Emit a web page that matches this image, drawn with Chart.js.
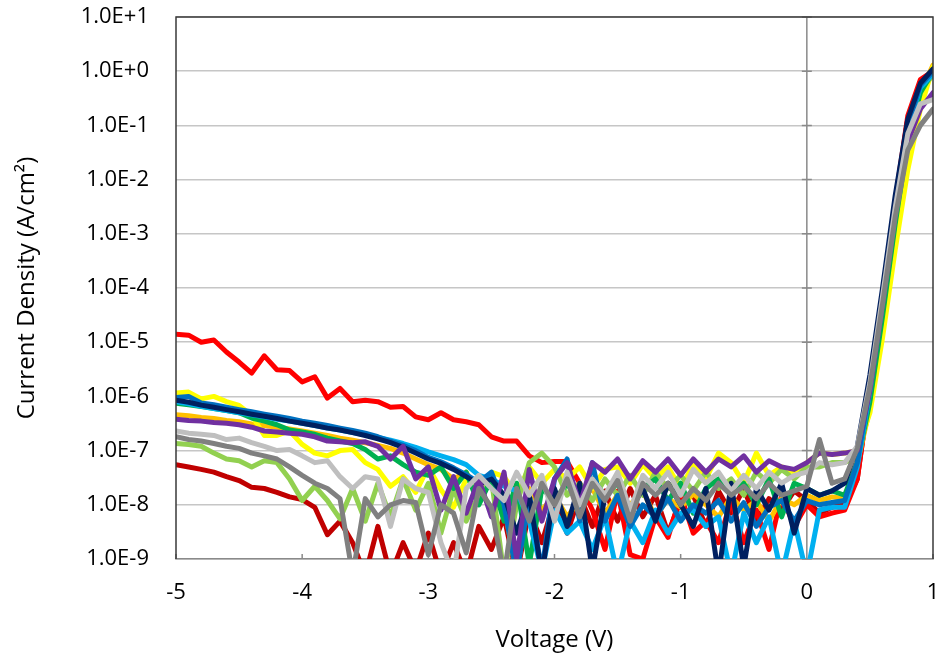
<!DOCTYPE html>
<html>
<head>
<meta charset="utf-8">
<script src="https://cdn.jsdelivr.net/npm/chart.js@4.4.1/dist/chart.umd.min.js"></script>
<style>
  html, body { margin: 0; padding: 0; background: #fff; }
</style>
</head>
<body>
<canvas id="chart" width="935" height="661"></canvas>
<script>
// Voltage sweep (V), step 0.1
const voltage = [
  -5.0, -4.9, -4.8, -4.7, -4.6, -4.5, -4.4, -4.3, -4.2, -4.1,
  -4.0, -3.9, -3.8, -3.7, -3.6, -3.5, -3.4, -3.3, -3.2, -3.1,
  -3.0, -2.9, -2.8, -2.7, -2.6, -2.5, -2.4, -2.3, -2.2, -2.1,
  -2.0, -1.9, -1.8, -1.7, -1.6, -1.5, -1.4, -1.3, -1.2, -1.1,
  -1.0, -0.9, -0.8, -0.7, -0.6, -0.5, -0.4, -0.3, -0.2, -0.1,
   0.0,  0.1,  0.2,  0.3,  0.4,  0.5,  0.6,  0.7,  0.8,  0.9, 1.0
];

// Current density (A/cm2) per device
const darkRed = [
  5.5e-8, 5e-8, 4.5e-8, 4e-8, 3.3e-8, 2.8e-8, 2.1e-8, 2e-8, 1.7e-8, 1.4e-8,
  1.25e-8, 9e-9, 2.8e-9, 5e-9, 2e-9, 5e-10, 4e-9, 5e-10, 2e-9, 6e-10,
  3e-9, 5e-10, 2e-9, 5e-10, 4e-9, 1.5e-9, 6e-9, 5e-10, 8e-9, 2e-9,
  1.2e-8, 3e-9, 1.5e-8, 4e-9, 1.8e-8, 5e-9, 2e-8, 6e-9, 1.5e-8, 3e-9,
  1.2e-8, 1.5e-8, 4e-9, 1.8e-8, 7e-9, 2e-8, 5e-9, 1.3e-8, 8e-9, 1.8e-8,
  1.2e-8, 7e-9, 9e-9, 1e-8, 3e-8, 1.4e-6, 6.5e-5, 3.5e-3, 1.3e-1, 6.5e-1, 0.95
];
const red = [
  1.4e-5, 1.35e-5, 1.0e-5, 1.1e-5, 6.6e-6, 4.3e-6, 2.7e-6, 5.6e-6, 3.1e-6, 3.0e-6,
  1.85e-6, 2.3e-6, 9.3e-7, 1.4e-6, 8e-7, 8.5e-7, 8e-7, 6.3e-7, 6.5e-7, 4.2e-7,
  3.7e-7, 5e-7, 3.7e-7, 3.4e-7, 3e-7, 1.8e-7, 1.5e-7, 1.5e-7, 8e-8, 6e-8,
  6.3e-8, 6.3e-8, 2.5e-8, 8e-9, 1.5e-9, 1.8e-8, 1.2e-9, 1e-9, 6e-9, 2.5e-9,
  1.5e-8, 3e-9, 5e-9, 2e-9, 1.2e-8, 2e-9, 8e-9, 1.5e-9, 1.5e-8, 4e-9,
  1e-8, 6e-9, 7e-9, 8e-9, 3e-8, 1.5e-6, 7e-5, 4e-3, 1.5e-1, 7e-1, 1.0
];
const orange = [
  4.6e-7, 4.4e-7, 4.1e-7, 3.9e-7, 3.6e-7, 3.4e-7, 3.1e-7, 2.9e-7, 2.7e-7, 2.5e-7,
  2.3e-7, 2.1e-7, 1.9e-7, 1.7e-7, 1.55e-7, 1.4e-7, 1.25e-7, 1.1e-7, 9e-8, 7e-8,
  5.5e-8, 4.5e-8, 3e-8, 4e-8, 1.5e-8, 3e-8, 1e-8, 5e-10, 2e-8, 8e-9,
  1.5e-8, 6e-9, 1.2e-8, 2e-8, 7e-9, 1.5e-8, 1e-8, 1.8e-8, 6e-9, 1.3e-8,
  9e-9, 1.6e-8, 1e-8, 6e-9, 1.4e-8, 8e-9, 1.2e-8, 5e-9, 1.3e-8, 1e-8,
  1.5e-8, 1.2e-8, 1.4e-8, 1.3e-8, 6e-8, 6e-7, 2.5e-5, 1.2e-3, 4.5e-2, 4e-1, 1.3
];
const yellow = [
  1.15e-6, 1.2e-6, 9e-7, 1.0e-6, 8e-7, 6.8e-7, 4.5e-7, 1.9e-7, 1.9e-7, 2.3e-7,
  1.3e-7, 9e-8, 8e-8, 1e-7, 1.05e-7, 6e-8, 4.5e-8, 2.2e-8, 3.3e-8, 1.7e-8,
  5e-8, 1.9e-8, 9e-9, 3e-8, 2e-8, 4e-8, 3.3e-8, 1.5e-8, 5e-8, 2.5e-8,
  4.5e-8, 3e-8, 5e-8, 2e-8, 4.5e-8, 5e-8, 2.5e-8, 5.5e-8, 3e-8, 5e-8,
  2e-8, 5.5e-8, 3e-8, 9e-8, 6e-8, 2.5e-8, 9e-8, 3.5e-8, 5e-8, 4e-8,
  6e-8, 9e-8, 8.5e-8, 9e-8, 1e-7, 5e-7, 1.2e-5, 5e-4, 1.5e-2, 2e-1, 1.2
];
const lightGreen = [
  1.35e-7, 1.3e-7, 1.2e-7, 9e-8, 7e-8, 6.5e-8, 5e-8, 6.5e-8, 6e-8, 3e-8,
  1.2e-8, 2.2e-8, 1.2e-8, 5.5e-9, 2e-8, 5e-9, 2.5e-8, 6e-9, 3e-8, 8e-9,
  2.5e-8, 3e-9, 2e-8, 5e-9, 1.5e-8, 3e-8, 5e-10, 1e-8, 6e-8, 9e-8,
  5e-8, 1.5e-8, 2.5e-8, 1.2e-8, 3e-8, 1.5e-8, 3.5e-8, 1.5e-8, 4e-8, 2e-8,
  3.5e-8, 1.8e-8, 4e-8, 2e-8, 3e-8, 1.5e-8, 4e-8, 2.5e-8, 4.5e-8, 3e-8,
  5e-8, 5e-8, 6e-8, 6e-8, 8e-8, 9e-7, 3.5e-5, 1.8e-3, 6e-2, 4.5e-1, 0.85
];
const green = [
  7.5e-7, 7e-7, 6.5e-7, 6e-7, 5.5e-7, 5e-7, 4e-7, 3.5e-7, 3e-7, 2.4e-7,
  2.2e-7, 2e-7, 1.7e-7, 1.5e-7, 1.35e-7, 1.05e-7, 7e-8, 8e-8, 5.5e-8, 4e-8,
  3.5e-8, 5e-8, 2e-8, 4e-8, 1e-8, 3e-8, 5e-9, 2.5e-8, 8e-10, 2e-8,
  1.2e-8, 2.5e-8, 1e-8, 3e-8, 1.5e-8, 2.5e-8, 8e-9, 2e-8, 3e-8, 1.2e-8,
  2.5e-8, 7e-9, 2e-8, 3e-8, 1.5e-8, 2.5e-8, 1e-8, 3e-8, 6e-9, 2.5e-8,
  2e-8, 1.5e-8, 1.8e-8, 1.5e-8, 6e-8, 8e-7, 3e-5, 1.5e-3, 5e-2, 4e-1, 1.0
];
const lightBlue = [
  8e-7, 7.3e-7, 6.6e-7, 6e-7, 5.5e-7, 5e-7, 4.6e-7, 4.2e-7, 3.8e-7, 3.5e-7,
  3.2e-7, 2.9e-7, 2.6e-7, 2.4e-7, 2.15e-7, 1.95e-7, 1.75e-7, 1.55e-7, 1.35e-7, 1.15e-7,
  9.5e-8, 8e-8, 6.8e-8, 5.5e-8, 3.5e-8, 3e-8, 2.2e-8, 1.8e-8, 5e-9, 6e-10,
  8e-9, 3e-9, 5e-9, 1.5e-9, 6e-9, 5e-10, 5e-9, 2e-9, 8e-9, 3e-9,
  7e-9, 8e-9, 4e-9, 6e-9, 5e-10, 7e-9, 2e-9, 6e-9, 5e-10, 5e-9,
  5e-10, 8e-9, 9e-9, 9e-9, 5e-8, 1.3e-6, 5.5e-5, 2.8e-3, 9e-2, 5e-1, 0.9
];
const blue = [
  9.5e-7, 1.0e-6, 7.6e-7, 7e-7, 6.3e-7, 5.7e-7, 5.2e-7, 4.7e-7, 4.3e-7, 3.9e-7,
  3.5e-7, 3.2e-7, 2.9e-7, 2.6e-7, 2.35e-7, 2.1e-7, 1.8e-7, 1.5e-7, 1.25e-7, 1e-7,
  7.5e-8, 6.2e-8, 4.8e-8, 3.6e-8, 2.6e-8, 4e-8, 1e-8, 5e-10, 1.5e-8, 6e-10,
  3e-8, 7e-8, 5e-9, 6e-8, 5e-9, 1.5e-8, 4e-9, 1e-8, 6e-9, 1.3e-8,
  5e-9, 1e-8, 7e-9, 1.2e-8, 5e-9, 1.1e-8, 4e-9, 9e-9, 1.2e-8, 5e-9,
  1.2e-8, 1e-8, 1.1e-8, 1.2e-8, 6e-8, 1.5e-6, 6e-5, 3e-3, 1e-1, 5.5e-1, 1.0
];
const darkBlue = [
  8.5e-7, 7.8e-7, 6.9e-7, 6.3e-7, 5.7e-7, 5.2e-7, 4.7e-7, 4.3e-7, 3.9e-7, 3.5e-7,
  3.2e-7, 2.9e-7, 2.6e-7, 2.4e-7, 2.15e-7, 1.9e-7, 1.65e-7, 1.4e-7, 1.15e-7, 9e-8,
  7e-8, 5.8e-8, 4.5e-8, 3.3e-8, 2.4e-8, 3e-8, 1.5e-8, 3e-9, 1.5e-8, 5e-10,
  2e-8, 4e-9, 2.5e-8, 6e-10, 1.5e-8, 3e-8, 8e-9, 2e-8, 5e-9, 2.5e-8,
  1e-8, 4e-9, 2e-8, 5e-10, 2.5e-8, 7e-10, 2e-8, 8e-9, 2.5e-8, 3e-9,
  2e-8, 1.5e-8, 1.8e-8, 2.5e-8, 1.2e-7, 2.5e-6, 1e-4, 5e-3, 1.3e-1, 6e-1, 1.1
];
const purple = [
  3.8e-7, 3.6e-7, 3.5e-7, 3.3e-7, 3.2e-7, 3e-7, 2.7e-7, 2.3e-7, 2.2e-7, 2.1e-7,
  2e-7, 1.8e-7, 1.5e-7, 1.45e-7, 1.4e-7, 1.45e-7, 1.2e-7, 7e-8, 1.2e-7, 3e-8,
  5e-8, 8e-9, 3.3e-8, 7e-9, 3e-8, 6e-9, 4e-8, 1e-9, 4.5e-8, 5e-9,
  3e-8, 6e-8, 1e-8, 6e-8, 4e-8, 7e-8, 3e-8, 6.5e-8, 4e-8, 7e-8,
  3.5e-8, 7e-8, 4e-8, 7e-8, 5e-8, 8e-8, 4e-8, 6.5e-8, 5e-8, 4.5e-8,
  6e-8, 9e-8, 8.5e-8, 9e-8, 1e-7, 1.3e-6, 5e-5, 2.2e-3, 5e-2, 2e-1, 0.4
];
const lightGray = [
  2.3e-7, 2.1e-7, 2e-7, 1.9e-7, 1.6e-7, 1.7e-7, 1.4e-7, 1.2e-7, 1e-7, 1.05e-7,
  8e-8, 6e-8, 6.5e-8, 3.3e-8, 2e-8, 3.3e-8, 3e-8, 4e-9, 3e-8, 2e-8,
  1.7e-8, 2e-9, 5e-10, 2e-8, 3.5e-8, 2e-8, 1.2e-8, 4e-8, 1.5e-8, 3.5e-8,
  5e-9, 4e-8, 1e-8, 3e-8, 1.5e-8, 4e-8, 8e-9, 3.5e-8, 2e-8, 4e-8,
  1.5e-8, 4.5e-8, 2.5e-8, 4e-8, 1.8e-8, 3.5e-8, 2e-8, 4e-8, 2.5e-8, 3.5e-8,
  4e-8, 6e-8, 5.5e-8, 6e-8, 1.2e-7, 1.8e-6, 7e-5, 3e-3, 7e-2, 2.5e-1, 0.3
];
const gray = [
  1.8e-7, 1.6e-7, 1.5e-7, 1.35e-7, 1.2e-7, 1.1e-7, 9e-8, 8e-8, 7e-8, 5e-8,
  3.5e-8, 2.5e-8, 2e-8, 1.3e-8, 5e-10, 1.3e-8, 6e-9, 1e-8, 1.2e-8, 1.1e-8,
  1.2e-9, 1e-8, 7e-9, 1.3e-9, 2e-8, 9e-9, 5e-10, 2e-8, 5e-9, 2.5e-8,
  1e-8, 3e-8, 6e-9, 2.5e-8, 1.2e-8, 2.8e-8, 5e-9, 2.5e-8, 1.5e-8, 2.5e-8,
  1e-8, 2e-8, 1.2e-8, 2.5e-8, 1.5e-8, 2.2e-8, 1.3e-8, 2.5e-8, 1.5e-8, 1.8e-8,
  2.2e-8, 1.6e-7, 2.5e-8, 3e-8, 1.1e-7, 1.5e-6, 5e-5, 2e-3, 3.5e-2, 1e-1, 0.2
];

const xTicks = [-5, -4, -3, -2, -1, 0, 1];
const yTicks = [1e-9, 1e-8, 1e-7, 1e-6, 1e-5, 1e-4, 1e-3, 1e-2, 1e-1, 1, 10];

// drawing order: first listed ends up at the bottom
const series = [
  { label: "Device 1", color: "#C00000", values: darkRed },
  { label: "Device 2", color: "#FF0000", values: red },
  { label: "Device 3", color: "#FFC000", values: orange },
  { label: "Device 4", color: "#FFFF00", values: yellow },
  { label: "Device 5", color: "#92D050", values: lightGreen },
  { label: "Device 6", color: "#00B050", values: green },
  { label: "Device 7", color: "#00B0F0", values: lightBlue },
  { label: "Device 8", color: "#0070C0", values: blue },
  { label: "Device 9", color: "#002060", values: darkBlue },
  { label: "Device 10", color: "#7030A0", values: purple },
  { label: "Device 11", color: "#BFBFBF", values: lightGray },
  { label: "Device 12", color: "#808080", values: gray }
];

const FONT = "'Open Sans', 'Noto Sans', sans-serif";

// plot frame + the vertical axis line at V = 0
const framePlugin = {
  id: "frame",
  beforeDatasetsDraw(chart) {
    const { ctx, chartArea: a, scales: { x, y } } = chart;
    const x0 = x.getPixelForValue(0);
    ctx.save();
    ctx.strokeStyle = "#8a8a8a";
    ctx.lineWidth = 1.5;
    ctx.beginPath();
    ctx.moveTo(x0, a.top);
    ctx.lineTo(x0, a.bottom);
    yTicks.forEach(v => {
      const py = y.getPixelForValue(v);
      ctx.moveTo(x0 - 5, py);
      ctx.lineTo(x0 + 5, py);
    });
    xTicks.forEach(v => {
      const px = x.getPixelForValue(v);
      ctx.moveTo(px, a.bottom);
      ctx.lineTo(px, a.bottom - 5);
    });
    ctx.stroke();
    ctx.restore();
  },
  afterDraw(chart) {
    const { ctx, chartArea: a } = chart;
    ctx.save();
    ctx.strokeStyle = "#3a3a3a";
    ctx.lineWidth = 1.5;
    ctx.beginPath();
    ctx.moveTo(a.left, a.bottom);
    ctx.lineTo(a.left, a.top);
    ctx.lineTo(a.right, a.top);
    ctx.lineTo(a.right, a.bottom);
    ctx.stroke();
    ctx.restore();
  }
};

new Chart(document.getElementById("chart"), {
  type: "line",
  data: {
    datasets: series.map((s, i) => ({
      label: s.label,
      data: voltage.map((v, k) => ({ x: v, y: s.values[k] })),
      borderColor: s.color,
      backgroundColor: s.color,
      borderWidth: 5,
      borderJoinStyle: "round",
      borderCapStyle: "round",
      pointRadius: 0,
      tension: 0,
      fill: false,
      order: series.length - i
    }))
  },
  options: {
    responsive: false,
    animation: false,
    devicePixelRatio: 1,
    layout: { padding: { top: 17, right: 2, left: 0, bottom: 0 } },
    plugins: { legend: { display: false }, tooltip: { enabled: false } },
    scales: {
      x: {
        type: "linear",
        min: -5,
        max: 1,
        afterBuildTicks(s) { s.ticks = xTicks.map(v => ({ value: v })); },
        afterFit(s) {
          s.height = 102;
          s.paddingLeft = 0;
          s.paddingRight = 0;
        },
        grid: { display: false, drawTicks: false },
        border: { color: "#8a8a8a", width: 1.5 },
        ticks: {
          color: "#000",
          font: { family: FONT, size: 22 },
          padding: 21,
          maxRotation: 0,
          autoSkip: false
        },
        title: {
          display: true,
          text: "Voltage (V)",
          color: "#000",
          font: { family: FONT, size: 24 },
          padding: { top: 0, bottom: 6 }
        }
      },
      y: {
        type: "logarithmic",
        min: 1e-9,
        max: 10,
        afterBuildTicks(s) { s.ticks = yTicks.map(v => ({ value: v })); },
        afterFit(s) {
          s.width = 176;
          s.paddingTop = 0;
          s.paddingBottom = 0;
        },
        grid: { color: "#c6c6c6", lineWidth: 1.5, drawTicks: false },
        border: { display: false },
        ticks: {
          color: "#000",
          font: { family: FONT, size: 22 },
          padding: 27,
          autoSkip: false,
          callback: v => Number(v).toExponential(1).toUpperCase()
        },
        title: {
          display: true,
          text: "Current Density (A/cm²)",
          color: "#000",
          font: { family: FONT, size: 24 },
          padding: { top: 13, bottom: 0 }
        }
      }
    }
  },
  plugins: [framePlugin]
});
</script>
</body>
</html>
